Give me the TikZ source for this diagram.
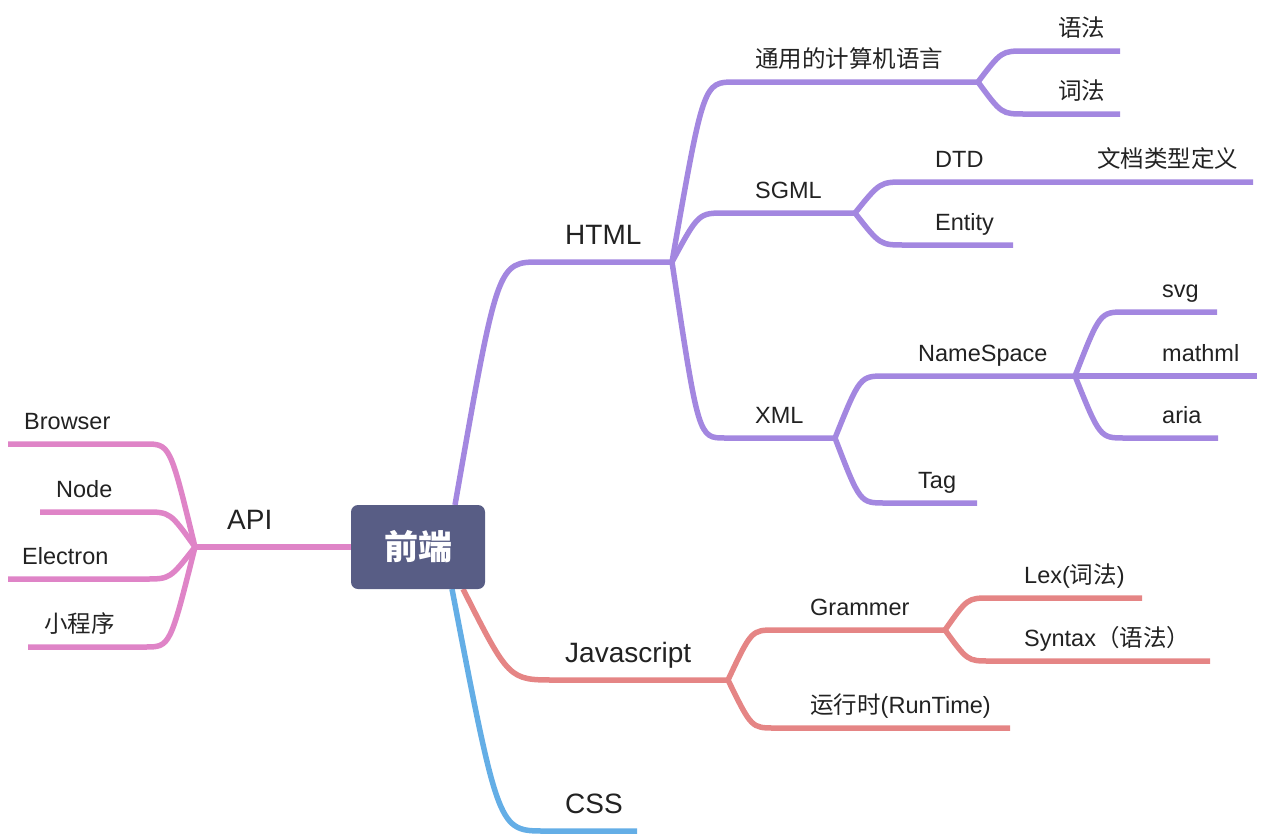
\documentclass[tikz,border=0pt]{standalone}
\usepackage{fontspec}
\setmainfont{Liberation Sans}
\newfontfamily\cjk{Noto Sans CJK SC}
\usetikzlibrary{calc}

\definecolor{rootc}{HTML}{585D85}
\definecolor{htmlc}{HTML}{A387E0}
\definecolor{jsc}{HTML}{E58585}
\definecolor{cssc}{HTML}{64AEE6}
\definecolor{apic}{HTML}{DF84C7}
\definecolor{txt}{HTML}{222222}

\tikzset{
  br/.style={line width=5.5pt},
  curvy/.style={to path={let \p1=(\tikztostart), \p2=(\tikztotarget) in
    .. controls ({0.5*(\x1+\x2)},\y2) .. (\tikztotarget)}},
  root/.style={fill=rootc, rounded corners=7pt, minimum width=134pt, minimum height=84pt,
    text=white, font=\cjk\bfseries\fontsize{34}{34}\selectfont},
  big/.style={anchor=base west, inner sep=0pt, text=txt, font=\fontsize{28}{28}\selectfont},
  lbl/.style={anchor=base west, inner sep=0pt, text=txt, font=\fontsize{23.5}{23.5}\selectfont},
}

\begin{document}
\begin{tikzpicture}[x=1pt,y=-1pt]
  \useasboundingbox (0,0) rectangle (1264,836);

  % HTML
  \coordinate (fe-h) at (455,505);
  \coordinate (html-s) at (540,262);   \coordinate (html-e) at (672,262);
  \coordinate (tong-s) at (735,82);    \coordinate (tong-e) at (978,82);
  \coordinate (yufa-s) at (1025,51);   \coordinate (yufa-e) at (1120,51);
  \coordinate (cifa-s) at (1025,114);  \coordinate (cifa-e) at (1120,114);
  \coordinate (sgml-s) at (725,213);   \coordinate (sgml-e) at (855,213);
  \coordinate (dtd-s) at (905,182);    \coordinate (dtd-e) at (1000,182);
  \coordinate (doc-e) at (1253,182);
  \coordinate (ent-s) at (905,245);    \coordinate (ent-e) at (1013,245);
  \coordinate (xml-s) at (725,438);    \coordinate (xml-e) at (835,438);
  \coordinate (ns-s) at (885,376);     \coordinate (ns-e) at (1075,376);
  \coordinate (svg-s) at (1125,312);   \coordinate (svg-e) at (1217,312);
  \coordinate (math-e) at (1257,376);
  \coordinate (aria-s) at (1125,438);  \coordinate (aria-e) at (1218,438);
  \coordinate (tag-s) at (885,503);    \coordinate (tag-e) at (977,503);

  \draw[br,htmlc] (fe-h) to[curvy] (html-s) -- (html-e);
  \draw[br,htmlc] (html-e) to[curvy] (tong-s) -- (tong-e);
  \draw[br,htmlc] (tong-e) to[curvy] (yufa-s) -- (yufa-e);
  \draw[br,htmlc] (tong-e) to[curvy] (cifa-s) -- (cifa-e);
  \draw[br,htmlc] (html-e) to[curvy] (sgml-s) -- (sgml-e);
  \draw[br,htmlc] (sgml-e) to[curvy] (dtd-s) -- (dtd-e) -- (doc-e);
  \draw[br,htmlc] (sgml-e) to[curvy] (ent-s) -- (ent-e);
  \draw[br,htmlc] (html-e) to[curvy] (xml-s) -- (xml-e);
  \draw[br,htmlc] (xml-e) to[curvy] (ns-s) -- (ns-e);
  \draw[br,htmlc] (ns-e) to[curvy] (svg-s) -- (svg-e);
  \draw[br,htmlc] (ns-e) -- (math-e);
  \draw[br,htmlc] (ns-e) to[curvy] (aria-s) -- (aria-e);
  \draw[br,htmlc] (xml-e) to[curvy] (tag-s) -- (tag-e);

  \node[big] (html) at (565,244) {HTML};
  \node[lbl] (tong) at (755,67) {\cjk 通用的计算机语言};
  \node[lbl] (yufa) at (1058,36) {\cjk 语法};
  \node[lbl] (cifa) at (1058,99) {\cjk 词法};
  \node[lbl] (sgml) at (755,198) {SGML};
  \node[lbl] (dtd) at (935,167) {DTD};
  \node[lbl] (doc) at (1097,167) {\cjk 文档类型定义};
  \node[lbl] (ent) at (935,230) {Entity};
  \node[lbl] (xml) at (755,423) {XML};
  \node[lbl] (ns) at (918,361) {NameSpace};
  \node[lbl] (svg) at (1162,297) {svg};
  \node[lbl] (math) at (1162,361) {mathml};
  \node[lbl] (aria) at (1162,423) {aria};
  \node[lbl] (tag) at (918,488) {Tag};

  % Javascript
  \coordinate (fe-j) at (463,589);
  \coordinate (js-s) at (555,680);     \coordinate (js-e) at (728,680);
  \coordinate (gr-s) at (775,630);     \coordinate (gr-e) at (945,630);
  \coordinate (lex-s) at (990,598);    \coordinate (lex-e) at (1142,598);
  \coordinate (syn-s) at (990,661);    \coordinate (syn-e) at (1210,661);
  \coordinate (rt-s) at (775,728);     \coordinate (rt-e) at (1010,728);

  \draw[br,jsc] (fe-j) to[curvy] (js-s) -- (js-e);
  \draw[br,jsc] (js-e) to[curvy] (gr-s) -- (gr-e);
  \draw[br,jsc] (gr-e) to[curvy] (lex-s) -- (lex-e);
  \draw[br,jsc] (gr-e) to[curvy] (syn-s) -- (syn-e);
  \draw[br,jsc] (js-e) to[curvy] (rt-s) -- (rt-e);

  \node[big] (js) at (565,662) {Javascript};
  \node[lbl] (gr) at (810,615) {Grammer};
  \node[lbl] (lex) at (1024,583) {Lex({\cjk 词法})};
  \node[lbl] (syn) at (1024,646) {Syntax{\cjk （语法）}};
  \node[lbl] (rt) at (810,713) {{\cjk 运行时}(RunTime)};

  % CSS
  \coordinate (fe-c) at (452,589);
  \coordinate (css-s) at (545,831);    \coordinate (css-e) at (637,831);
  \draw[br,cssc] (fe-c) to[curvy] (css-s) -- (css-e);
  \node[big] (css) at (565,813) {CSS};

  % API
  \coordinate (fe-a) at (351,547);     \coordinate (api-e) at (195,547);
  \coordinate (bro-s) at (145,444);    \coordinate (bro-e) at (8,444);
  \coordinate (node-s) at (145,512);   \coordinate (node-e) at (40,512);
  \coordinate (ele-s) at (145,579);    \coordinate (ele-e) at (8,579);
  \coordinate (xcx-s) at (145,647);    \coordinate (xcx-e) at (28,647);

  \draw[br,apic] (fe-a) -- (api-e);
  \draw[br,apic] (api-e) to[curvy] (bro-s) -- (bro-e);
  \draw[br,apic] (api-e) to[curvy] (node-s) -- (node-e);
  \draw[br,apic] (api-e) to[curvy] (ele-s) -- (ele-e);
  \draw[br,apic] (api-e) to[curvy] (xcx-s) -- (xcx-e);

  \node[big] (api) at (227,529) {API};
  \node[lbl] (bro) at (24,429) {Browser};
  \node[lbl] (node) at (56,497) {Node};
  \node[lbl] (ele) at (22,564) {Electron};
  \node[lbl] (xcx) at (44,632) {\cjk 小程序};

  % root
  \node[root] (fe) at (418,547) {前端};
\end{tikzpicture}
\end{document}
